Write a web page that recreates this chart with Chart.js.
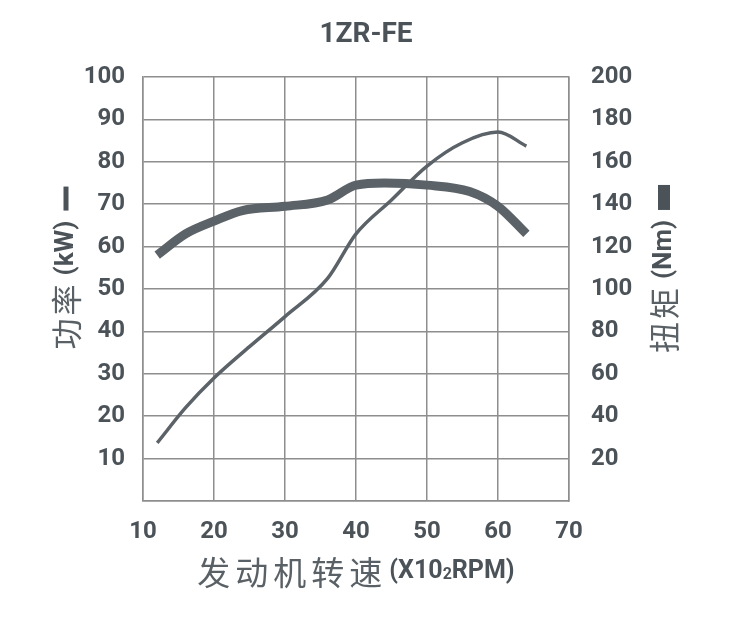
<!DOCTYPE html>
<html>
<head>
<meta charset="utf-8">
<script src="https://cdn.jsdelivr.net/npm/chart.js@4"></script>
<style>
  html, body { margin: 0; padding: 0; background: #fff; }
  #wrap { width: 747px; height: 619px; }
</style>
</head>
<body>
<div id="wrap"><canvas id="myChart" width="747" height="619"></canvas></div>
<script>
// Datos
var titleText = '1ZR-FE';
var xTicks = [10, 20, 30, 40, 50, 60, 70];
var powerTicks = [0, 10, 20, 30, 40, 50, 60, 70, 80, 90, 100];
var torqueTicks = [0, 20, 40, 60, 80, 100, 120, 140, 160, 180, 200];

// potencia (kW), línea fina
var powerRpm = [12, 16, 20, 25, 30, 36, 40, 45, 50, 55, 60, 64];
var power = [13.7, 22, 29, 36.4, 43.5, 52.5, 63, 71, 79, 84.5, 87, 83.7];

// par (Nm), línea gruesa
var torqueRpm = [12, 16, 20, 24, 30, 36, 40, 44, 50, 56, 60, 64];
var torque = [116, 126, 132, 137, 139, 142, 149, 150, 149, 146, 139, 126];

var ink = '#4b5359';
var lineColor = '#5b6268';
var gridColor = '#8e8e8e';
var narrow = "Roboto, 'Liberation Sans', sans-serif";
var cjk = "'Noto Sans CJK SC', sans-serif";

function toPoints(xs, ys) {
    var pts = [];
    for (var i = 0; i < xs.length; i++) pts.push({ x: xs[i], y: ys[i] });
    return pts;
}

// dibuja una fila de trozos de texto (o barras) centrada en (0,0)
function drawRuns(ctx, runs) {
    var total = 0;
    runs.forEach(function (r) {
        if (r.bar) { r.w = r.bar[0]; }
        else {
            ctx.font = r.font;
            r.w = 0;
            r.chars = Array.from(r.text);
            r.chars.forEach(function (c) { r.w += ctx.measureText(c).width + (r.spacing || 0); });
        }
        r.w += (r.gap || 0);
        total += r.w;
    });
    var x = -total / 2;
    runs.forEach(function (r) {
        ctx.fillStyle = r.color || ink;
        if (r.bar) {
            ctx.fillRect(x, -r.bar[1] / 2 + (r.dy || 0), r.bar[0], r.bar[1]);
        } else {
            ctx.font = r.font;
            ctx.textBaseline = 'middle';
            ctx.textAlign = 'left';
            var cx = x;
            r.chars.forEach(function (c) {
                ctx.fillText(c, cx, r.dy || 0);
                cx += ctx.measureText(c).width + (r.spacing || 0);
            });
        }
        x += r.w;
    });
}

var labelsPlugin = {
    id: 'labels',
    afterDraw: function (chart) {
        var ctx = chart.ctx;
        ctx.save();
        // título
        ctx.fillStyle = ink;
        ctx.font = 'bold 28px ' + narrow;
        ctx.textAlign = 'center';
        ctx.textBaseline = 'middle';
        ctx.fillText(titleText, 366, 35);

        // eje izquierdo
        ctx.save();
        ctx.translate(66, 268);
        ctx.rotate(-Math.PI / 2);
        drawRuns(ctx, [
            { text: '功率', font: '400 31px ' + cjk, color: '#5a6166', spacing: 3, gap: 6 },
            { text: '(kW)', font: 'bold 26px ' + narrow, gap: 10 },
            { bar: [24, 5] }
        ]);
        ctx.restore();

        // eje derecho
        ctx.save();
        ctx.translate(664, 269);
        ctx.rotate(-Math.PI / 2);
        drawRuns(ctx, [
            { text: '扭矩', font: '400 31px ' + cjk, color: '#5a6166', spacing: 3, gap: 6 },
            { text: '(Nm)', font: 'bold 26px ' + narrow, gap: 10 },
            { bar: [25, 12] }
        ]);
        ctx.restore();

        // eje inferior
        ctx.save();
        ctx.translate(356, 572);
        drawRuns(ctx, [
            { text: '发动机转速', font: '400 33px ' + cjk, color: '#5a6166', spacing: 5, gap: 2 },
            { text: '(X10', font: 'bold 25px ' + narrow },
            { text: '2', font: 'bold 16px ' + narrow, dy: 3 },
            { text: 'RPM)', font: 'bold 25px ' + narrow }
        ]);
        ctx.restore();
        ctx.restore();
    }
};

var tickFont = { family: narrow, size: 24, weight: 'bold' };

var ctx = document.getElementById('myChart').getContext('2d');
var myChart = new Chart(ctx, {
    type: 'line',
    data: {
        datasets: [
            {
                label: '功率 (kW)',
                data: toPoints(powerRpm, power),
                yAxisID: 'y',
                borderColor: lineColor,
                borderWidth: 3.5,
                pointRadius: 0,
                tension: 0.4,
                cubicInterpolationMode: 'monotone',
                fill: false
            },
            {
                label: '扭矩 (Nm)',
                data: toPoints(torqueRpm, torque),
                yAxisID: 'y1',
                borderColor: lineColor,
                borderWidth: 9,
                pointRadius: 0,
                tension: 0.4,
                cubicInterpolationMode: 'monotone',
                fill: false
            }
        ]
    },
    options: {
        responsive: false,
        animation: false,
        layout: { padding: { top: 77, left: 0, right: 0, bottom: 0 } },
        plugins: {
            legend: { display: false },
            tooltip: { enabled: false }
        },
        scales: {
            x: {
                type: 'linear',
                min: 10,
                max: 70,
                afterBuildTicks: function (scale) {
                    scale.ticks = xTicks.map(function (v) { return { value: v }; });
                },
                afterFit: function (scale) { scale.height = 118; },
                grid: { color: gridColor, lineWidth: 1.5, drawTicks: false },
                border: { color: gridColor, width: 1.5 },
                ticks: { color: ink, font: tickFont, padding: 17, maxRotation: 0 }
            },
            y: {
                position: 'left',
                min: 0,
                max: 100,
                afterBuildTicks: function (scale) {
                    scale.ticks = powerTicks.map(function (v) { return { value: v }; });
                },
                afterFit: function (scale) { scale.width = 143; },
                grid: { color: gridColor, lineWidth: 1.5, drawTicks: false },
                border: { color: gridColor, width: 1.5 },
                ticks: {
                    color: ink, font: tickFont, padding: 18,
                    callback: function (v) { return v === 0 ? '' : v; }
                }
            },
            y1: {
                position: 'right',
                min: 0,
                max: 200,
                afterBuildTicks: function (scale) {
                    scale.ticks = torqueTicks.map(function (v) { return { value: v }; });
                },
                afterFit: function (scale) { scale.width = 178; },
                grid: { drawOnChartArea: false, drawTicks: false },
                border: { color: gridColor, width: 1.5 },
                ticks: {
                    color: ink, font: tickFont, padding: 22,
                    callback: function (v) { return v === 0 ? '' : v; }
                }
            }
        }
    },
    plugins: [labelsPlugin]
});
</script>
</body>
</html>
